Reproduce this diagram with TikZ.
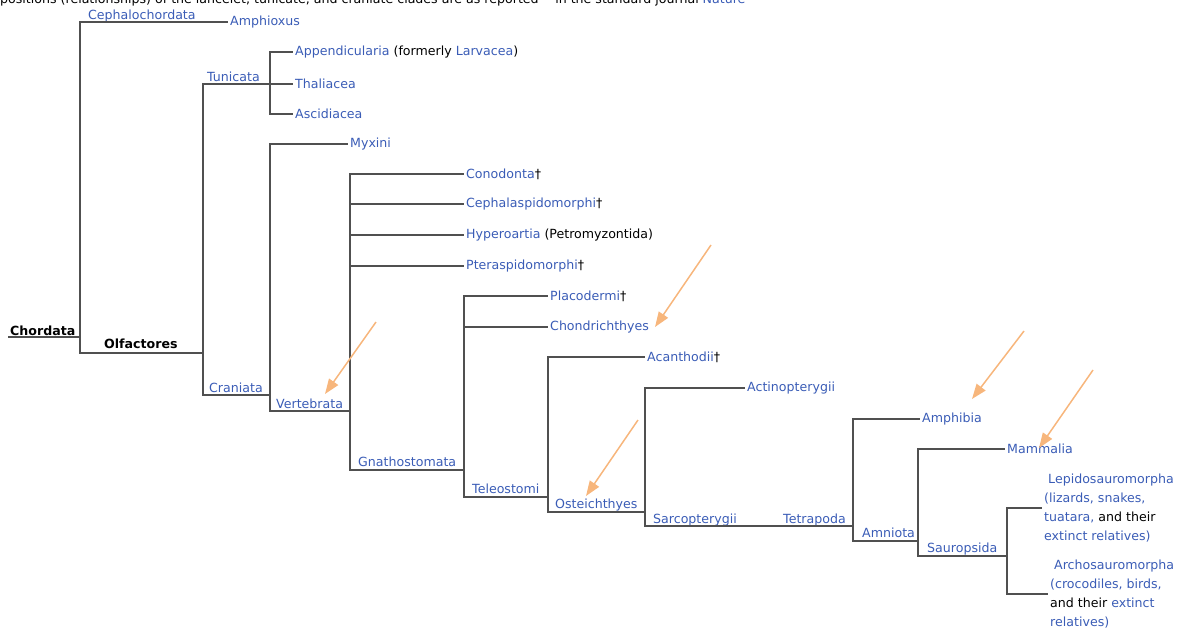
\documentclass[tikz,border=0pt]{standalone}
\usepackage{fontspec}
\setmainfont{DejaVu Sans}
\usepackage{xcolor}
\usetikzlibrary{arrows.meta,positioning,calc}

\definecolor{linkblue}{RGB}{58,92,182}
\definecolor{treegray}{RGB}{80,80,80}
\definecolor{hintorange}{RGB}{247,182,124}

\newcommand{\lk}[1]{\textcolor{linkblue}{#1}}

\begin{document}
\begin{tikzpicture}[
        x=1pt, y=-1pt,
        font=\fontsize{12.6}{19}\selectfont,
        branch/.style={draw=treegray, line width=1.2pt},
        taxon/.style={anchor=west, inner sep=2pt, text=linkblue},
        clade/.style={anchor=base west, inner sep=0pt, text=linkblue},
        rank/.style={anchor=base west, inner sep=0pt, font=\fontsize{12.6}{19}\selectfont\bfseries},
        pointer/.style={-{Triangle[length=15pt,width=11pt]}, draw=hintorange, line width=1.5pt}
    ]
        \useasboundingbox (0,0) rectangle (1184,627);

        % Caption line, cut off by the page edge
        \node[anchor=base west, inner sep=0pt] (caption) at (0,3)
            {positions (relationships) of the lancelet, tunicate, and craniate clades are as reported \quad in the standard journal \lk{Nature}};

        % Junctions
        \coordinate (root) at (8,337);
        \coordinate (chord) at (80,337);
        \coordinate (olf) at (203,353);
        \coordinate (tuni) at (270,84);
        \coordinate (cran) at (270,395);
        \coordinate (vert) at (350,411);
        \coordinate (gnath) at (464,470);
        \coordinate (tele) at (548,497);
        \coordinate (oste) at (645,512);
        \coordinate (sarc) at (853,526);
        \coordinate (amnio) at (918,541);
        \coordinate (saur) at (1007,556);

        % Leaves
        \node[taxon] (amphioxus) at (228,22) {Amphioxus};
        \node[taxon] (append) at (293,52) {Appendicularia \textcolor{black}{(formerly} Larvacea\textcolor{black}{)}};
        \node[taxon] (thalia) at (293,84) {Thaliacea};
        \node[taxon] (ascid) at (293,114) {Ascidiacea};
        \node[taxon] (myxini) at (348,144) {Myxini};
        \node[taxon] (conod) at (464,174) {Conodonta\textcolor{black}{†}};
        \node[taxon] (cephal) at (464,204) {Cephalaspidomorphi\textcolor{black}{†}};
        \node[taxon] (hyper) at (464,235) {Hyperoartia \textcolor{black}{(Petromyzontida)}};
        \node[taxon] (pteras) at (464,266) {Pteraspidomorphi\textcolor{black}{†}};
        \node[taxon] (placo) at (548,296) {Placodermi\textcolor{black}{†}};
        \node[taxon] (chondr) at (548,327) {Chondrichthyes};
        \node[taxon] (acanth) at (645,357) {Acanthodii\textcolor{black}{†}};
        \node[taxon] (actino) at (745,388) {Actinopterygii};
        \node[taxon] (amphib) at (920,419) {Amphibia};
        \node[taxon] (mammal) at (1005,449) {Mammalia};
        \node[taxon, align=left] (lepido) at (1042,508)
            {\ Lepidosauromorpha\\(lizards, snakes,\\tuatara, \textcolor{black}{and their}\\extinct relatives)};
        \node[taxon, align=left] (archo) at (1048,594)
            {\ Archosauromorpha\\(crocodiles, birds,\\\textcolor{black}{and their} extinct\\relatives)};

        % Clade names
        \node[rank] (chordata) at (10,335) {Chordata};
        \node[rank] (olfact) at (104,348) {Olfactores};
        \node[clade] (cephalo) at (88,19) {Cephalochordata};
        \node[clade] (tunicata) at (207,81) {Tunicata};
        \node[clade] (craniata) at (209,392) {Craniata};
        \node[clade] (vertebr) at (276,408) {Vertebrata};
        \node[clade] (gnatho) at (358,466) {Gnathostomata};
        \node[clade] (teleo) at (472,493) {Teleostomi};
        \node[clade] (osteich) at (555,508) {Osteichthyes};
        \node[clade] (sarcop) at (653,523) {Sarcopterygii};
        \node[clade] (tetrap) at (783,523) {Tetrapoda};
        \node[clade] (amniota) at (862,537) {Amniota};
        \node[clade] (sauro) at (927,552) {Sauropsida};

        % Branches
        \draw[branch] (root) -- (chord);
        \draw[branch] (chord) |- (amphioxus.west);
        \draw[branch] (chord) |- (olf);
        \draw[branch] (olf) |- (tuni);
        \draw[branch] (olf) |- (cran);
        \draw[branch] (tuni) |- (thalia.west);
        \draw[branch] (tuni) |- (append.west);
        \draw[branch] (tuni) |- (ascid.west);
        \draw[branch] (cran) |- (myxini.west);
        \draw[branch] (cran) |- (vert);
        \draw[branch] (vert) |- (conod.west);
        \draw[branch] (vert) |- (cephal.west);
        \draw[branch] (vert) |- (hyper.west);
        \draw[branch] (vert) |- (pteras.west);
        \draw[branch] (vert) |- (gnath);
        \draw[branch] (gnath) |- (placo.west);
        \draw[branch] (gnath) |- (chondr.west);
        \draw[branch] (gnath) |- (tele);
        \draw[branch] (tele) |- (acanth.west);
        \draw[branch] (tele) |- (oste);
        \draw[branch] (oste) |- (actino.west);
        \draw[branch] (oste) |- (sarc);
        \draw[branch] (sarc) |- (amphib.west);
        \draw[branch] (sarc) |- (amnio);
        \draw[branch] (amnio) |- (mammal.west);
        \draw[branch] (amnio) |- (saur);
        \draw[branch] (saur) |- (lepido.west);
        \draw[branch] (saur) |- (archo.west);

        % Orange hints
        \coordinate (h1) at (376,322);
        \coordinate (h2) at (711,245);
        \coordinate (h3) at (638,420);
        \coordinate (h4) at (1024,331);
        \coordinate (h5) at (1093,370);
        \draw[pointer] (h1) -- (325,394);
        \draw[pointer] (h2) -- (655,327);
        \draw[pointer] (h3) -- (586,496);
        \draw[pointer] (h4) -- (972,399);
        \draw[pointer] (h5) -- (1039,448);

    \end{tikzpicture}
\end{document}
